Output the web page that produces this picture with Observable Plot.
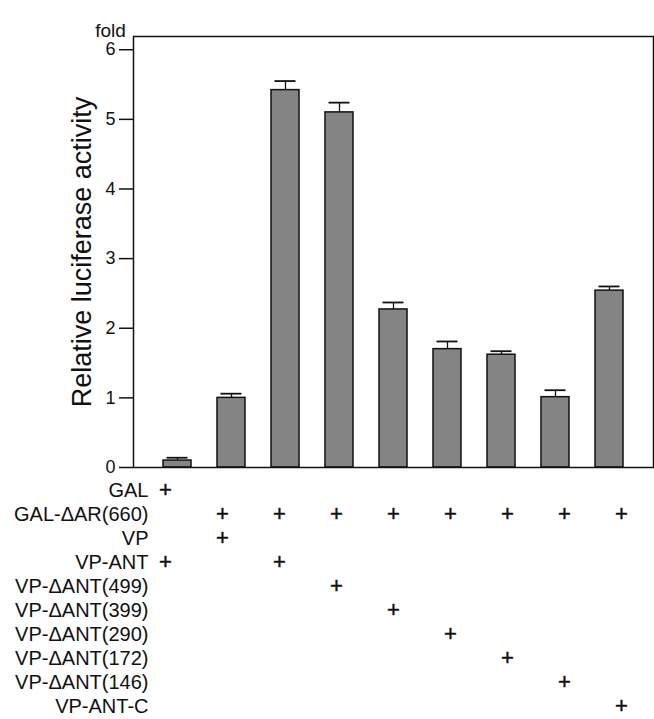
<!DOCTYPE html>
<html><head><meta charset="utf-8">
<script src="https://cdn.jsdelivr.net/npm/d3@7"></script>
<script src="https://cdn.jsdelivr.net/npm/@observablehq/plot@0.6"></script>
<style>
html,body{margin:0;padding:0;background:#fff;}
#chart svg{display:block;}
</style></head><body><div id="chart"></div>
<script>
const categories = ["GAL+VP-ANT","ΔAR+VP","ΔAR+VP-ANT","ΔAR+ΔANT(499)","ΔAR+ΔANT(399)","ΔAR+ΔANT(290)","ΔAR+ΔANT(172)","ΔAR+ΔANT(146)","ΔAR+ANT-C"];
const activity = [0.10, 1.00, 5.42, 5.10, 2.27, 1.70, 1.62, 1.01, 2.54];
const errorUp  = [0.04, 0.06, 0.13, 0.14, 0.10, 0.11, 0.05, 0.10, 0.06];
const yTicks = [0, 1, 2, 3, 4, 5, 6];
const yTitle = "Relative luciferase activity";
const yUnit = "fold";
const rowLabels = ["GAL","GAL-ΔAR(660)","VP","VP-ANT","VP-ΔANT(499)","VP-ΔANT(399)","VP-ΔANT(290)","VP-ΔANT(172)","VP-ΔANT(146)","VP-ANT-C"];
const rowMembers = [[0],[1,2,3,4,5,6,7,8],[1],[0,2],[3],[4],[5],[6],[7],[8]];

const bars = categories.map((c, i) => ({cat: c, v: activity[i], hi: activity[i] + errorUp[i]}));
const plus = rowLabels.flatMap((r, j) => rowMembers[j].map(i => ({row: r, cat: categories[i]})));

const font = "'Liberation Sans', Arial, Helvetica, sans-serif";
const xScale = {domain: categories, paddingInner: 0.49, paddingOuter: 0.495, axis: null};

const barChart = Plot.plot({
  width: 654, height: 477,
  marginTop: 36, marginBottom: 10, marginLeft: 133, marginRight: 1,
  style: {fontFamily: font, color: "#111", background: "#fff"},
  x: xScale,
  y: {domain: [0, 6.19]},
  marks: [
    Plot.barY(bars, {x: "cat", y: "v", fill: "#848484", stroke: "#111", strokeWidth: 1.5}),
    Plot.ruleX(bars, {x: "cat", y1: "v", y2: "hi", stroke: "#111", strokeWidth: 1.3}),
    Plot.tickY(bars, {x: "cat", y: "hi", insetLeft: 3.5, insetRight: 3.5, stroke: "#111", strokeWidth: 1.8}),
    Plot.frame({stroke: "#111", strokeWidth: 1.5}),
    Plot.axisY({ticks: yTicks, tickSize: 14, tickPadding: 4, fontSize: 18, label: null, strokeWidth: 1.5, tickFormat: d3.format("d")}),
    Plot.text([yTitle], {frameAnchor: "left", textAnchor: "middle", rotate: -90, dx: -51, fontSize: 27, fill: "#111"}),
    Plot.text([yUnit], {frameAnchor: "top-left", textAnchor: "middle", dx: -23, dy: -13, fontSize: 19, fill: "#111"})
  ]
});

const tableChart = Plot.plot({
  width: 654, height: 242,
  marginTop: 13, marginBottom: 13, marginLeft: 133, marginRight: 1,
  style: {fontFamily: font, color: "#111", background: "#fff"},
  x: xScale,
  y: {type: "point", domain: rowLabels, padding: 0},
  marks: [
    Plot.axisY({tickSize: 0, tickPadding: 0, dx: 15, fontSize: 20, label: null}),
    Plot.text(plus, {x: "cat", y: "row", text: () => "+", fontSize: 22, fill: "#111", stroke: "#111", strokeWidth: 0.5, dy: -1})
  ]
});

document.getElementById("chart").append(barChart, tableChart);
</script>
</body></html>
